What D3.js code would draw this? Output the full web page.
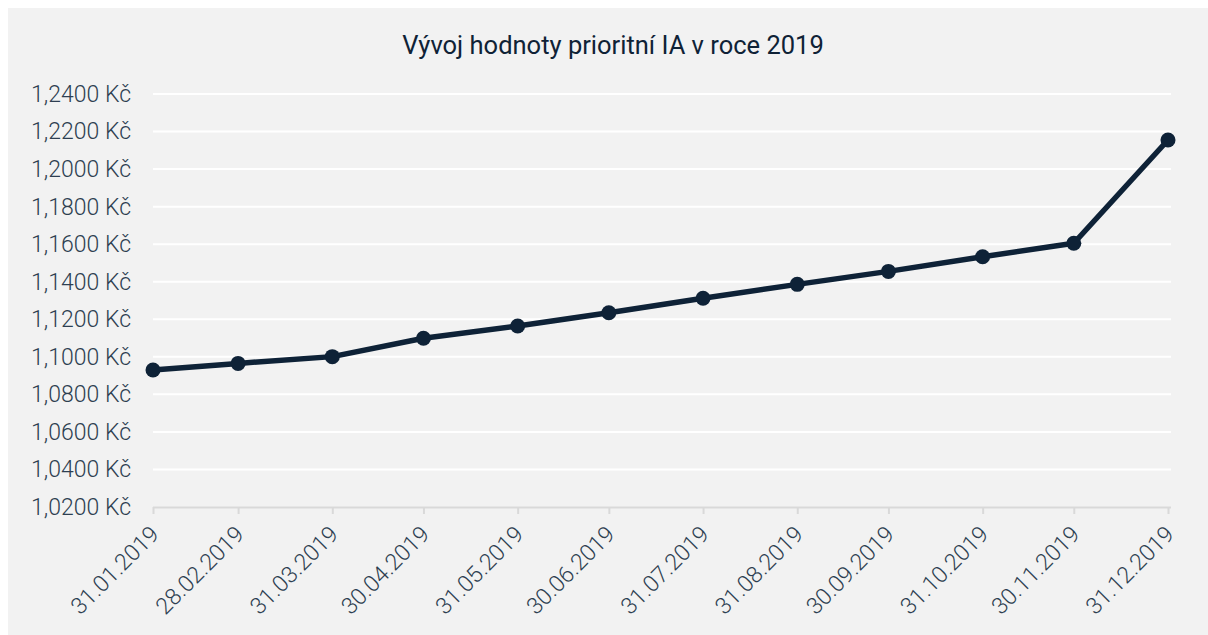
<!DOCTYPE html>
<html><head><meta charset="utf-8">
<script src="https://cdn.jsdelivr.net/npm/d3@7"></script>
<style>
html,body{margin:0;padding:0;background:#fff;}
text{font-family:Roboto,"Open Sans",sans-serif;}
</style></head>
<body><svg id="c" width="1208" height="635"></svg>
<script>
const title = "Vývoj hodnoty prioritní IA v roce 2019";
const dates = ["2019-01-31","2019-02-28","2019-03-31","2019-04-30","2019-05-31","2019-06-30","2019-07-31","2019-08-31","2019-09-30","2019-10-31","2019-11-30","2019-12-31"];
const values = [1.0930,1.0965,1.1001,1.1099,1.1164,1.1235,1.1312,1.1386,1.1455,1.1533,1.1605,1.2155];
const yTicks = [1.02,1.04,1.06,1.08,1.10,1.12,1.14,1.16,1.18,1.20,1.22,1.24];

const parse = d3.timeParse("%Y-%m-%d");
const data = dates.map((d,i)=>({d:parse(d), v:values[i]}));
const svg = d3.select("#c");
svg.append("rect").attr("x",8).attr("y",8).attr("width",1200).attr("height",627).attr("fill","#f2f2f2");

const m = {l:153, r:1168, t:94, b:507};
const x = d3.scaleTime().domain(d3.extent(data,d=>d.d)).range([m.l,m.r]);
const y = d3.scaleLinear().domain([1.02,1.24]).range([m.b,m.t]);

svg.append("text").attr("x",613).attr("y",54).attr("text-anchor","middle")
  .attr("font-size",25.5).attr("fill","#0f2236").text(title);

// gridlines
svg.append("g").selectAll("line").data(yTicks.slice(1)).join("line")
  .attr("x1",m.l).attr("x2",m.r+3).attr("y1",d=>y(d)).attr("y2",d=>y(d))
  .attr("stroke","#ffffff").attr("stroke-width",2);

const fmt = d => d3.format(".4f")(d).replace(".",",") + " Kč";
const ya = svg.append("g").attr("transform",`translate(${m.l},0)`)
  .call(d3.axisLeft(y).tickValues(yTicks).tickFormat(fmt).tickSize(0).tickPadding(22));
ya.select(".domain").remove();
ya.selectAll("text").attr("font-size",23).attr("fill","#2e3f51").attr("font-weight",300)
  .style("font-family","Roboto");

const xa = svg.append("g").attr("transform",`translate(0,${m.b})`)
  .call(d3.axisBottom(x).tickValues(data.map(d=>d.d)).tickFormat(d3.timeFormat("%d.%m.%Y")).tickSize(7).tickSizeOuter(0));
xa.select(".domain").attr("stroke","#d9d9d9").attr("stroke-width",2).attr("d",`M${m.l},0.5H${m.r+3}`);
xa.selectAll(".tick line").attr("stroke","#d9d9d9").attr("stroke-width",2);
xa.selectAll("text").attr("font-size",23).attr("fill","#2e3f51").attr("font-weight",300)
  .style("font-family","Roboto")
  .attr("text-anchor","end").attr("dy","0.35em")
  .attr("transform","translate(1,23) rotate(-45)").attr("y",0).attr("x",0);

const line = d3.line().x(d=>x(d.d)).y(d=>y(d.v));
svg.append("path").datum(data).attr("d",line).attr("fill","none")
  .attr("stroke","#0e2237").attr("stroke-width",5.5).attr("stroke-linejoin","round");
svg.append("g").selectAll("circle").data(data).join("circle")
  .attr("cx",d=>x(d.d)).attr("cy",d=>y(d.v)).attr("r",7.5).attr("fill","#0e2237");
</script></body></html>
